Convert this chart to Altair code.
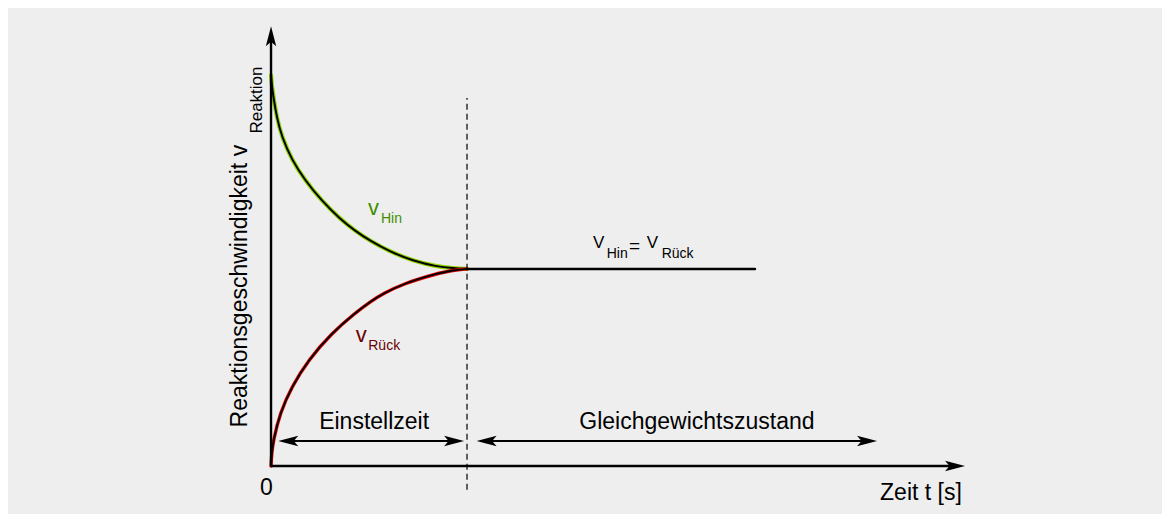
import altair as alt
import pandas as pd

# ---- values ----------------------------------------------------------------
# t: time (equilibrium reached at t = 1), v: reaction rate (v_Hin(0) = 1)
t_hin = [0.0, 0.004, 0.012, 0.030, 0.055, 0.106, 0.173, 0.259, 0.352, 0.430, 0.505, 0.607, 0.724, 0.845, 0.930, 1.0]
v_hin = [1.0, 0.975, 0.944, 0.890, 0.842, 0.783, 0.731, 0.678, 0.632, 0.601, 0.576, 0.548, 0.525, 0.510, 0.506, 0.504]
t_rueck = [0.0, 0.003, 0.012, 0.046, 0.106, 0.190, 0.310, 0.429, 0.505, 0.573, 0.673, 0.845, 0.930, 1.0]
v_rueck = [0.0, 0.030, 0.066, 0.136, 0.203, 0.271, 0.340, 0.391, 0.420, 0.441, 0.466, 0.492, 0.501, 0.504]
t_eq = [1.0, 2.469]
v_eq = [0.504, 0.504]

t_axis_end = 3.541          # tip of the time axis arrow
v_axis_end = 1.125          # tip of the rate axis arrow
t_split = 1.0               # end of the Einstellzeit
dash_range = [-0.061, 0.941]
span_level = 0.064
span_einstell = [0.037, 0.985]
span_gleich = [1.049, 3.092]

X_DOM = [-1.342, 4.546]
Y_DOM = [-0.1228, 1.1714]
W, H = 1154, 506
PX_T = W / (X_DOM[1] - X_DOM[0])
PX_V = H / (Y_DOM[1] - Y_DOM[0])

GREEN_GLOW = "#8fd400"
GREEN_TXT = "#3f8f00"
RED_GLOW = "#e00000"
RED_TXT = "#6a0000"
FONT = "Liberation Sans"

xs = alt.Scale(domain=X_DOM, nice=False, zero=False)
ys = alt.Scale(domain=Y_DOM, nice=False, zero=False)


def X(f="t"):
    return alt.X(f"{f}:Q", scale=xs, axis=None)


def Y(f="v"):
    return alt.Y(f"{f}:Q", scale=ys, axis=None)


hin = pd.DataFrame({"t": t_hin, "v": v_hin})
rueck = pd.DataFrame({"t": t_rueck, "v": v_rueck})
eq = pd.DataFrame({"t": t_eq, "v": v_eq})


def line(df, color, w, interp="basis"):
    return alt.Chart(df).mark_line(color=color, strokeWidth=w, interpolate=interp,
                                   strokeCap="round").encode(x=X(), y=Y())


layers = [
    line(hin, GREEN_GLOW, 4.2),
    line(hin, "black", 2.0),
    line(rueck, RED_GLOW, 3.4),
    line(rueck, "black", 1.8),
    line(eq, "black", 2.6, "linear"),
]

# dashed separator
dash = pd.DataFrame({"t": [t_split], "v": [dash_range[0]], "v2": [dash_range[1]]})
layers.append(alt.Chart(dash).mark_rule(color="black", strokeWidth=1.2, strokeDash=[6, 4])
              .encode(x=X(), y=Y(), y2="v2:Q"))

# axes lines (stop inside the arrowheads)
inset = 12
ax_h = pd.DataFrame({"t": [0.0], "t2": [t_axis_end - inset / PX_T], "v": [0.0]})
ax_v = pd.DataFrame({"t": [0.0], "v": [0.0], "v2": [v_axis_end - inset / PX_V]})
layers.append(alt.Chart(ax_h).mark_rule(color="black", strokeWidth=2.4)
              .encode(x=X(), x2="t2:Q", y=Y()))
layers.append(alt.Chart(ax_v).mark_rule(color="black", strokeWidth=2.4)
              .encode(x=X(), y=Y(), y2="v2:Q"))

# double arrows
spans = pd.DataFrame({
    "t": [span_einstell[0] + inset / PX_T, span_gleich[0] + inset / PX_T],
    "t2": [span_einstell[1] - inset / PX_T, span_gleich[1] - inset / PX_T],
    "v": [span_level, span_level],
})
layers.append(alt.Chart(spans).mark_rule(color="black", strokeWidth=2.0)
              .encode(x=X(), x2="t2:Q", y=Y()))

heads = pd.DataFrame({
    "t": [t_axis_end, 0.0, span_einstell[0], span_einstell[1], span_gleich[0], span_gleich[1]],
    "v": [0.0, v_axis_end, span_level, span_level, span_level, span_level],
    "ang": [90, 0, 270, 90, 270, 90],
})
ARROW = "M0,0L0.52,2L0,1.55L-0.52,2Z"
layers.append(alt.Chart(heads).mark_point(shape=ARROW, size=400, filled=True, color="black",
                                          opacity=1, strokeWidth=0)
              .encode(x=X(), y=Y(), angle=alt.Angle("ang:Q", scale=None)))

# ---- texts --------------------------------------------------------------------
big_txt = ["Einstellzeit", "Gleichgewichtszustand", "Zeit t [s]", "0"]
big_t = [0.526, 2.173, 3.316, -0.023]
big_v = [0.094, 0.094, -0.087, -0.074]
layers.append(alt.Chart(pd.DataFrame({"s": big_txt, "t": big_t, "v": big_v}))
              .mark_text(font=FONT, fontSize=23, color="black", align="center",
                         baseline="alphabetic")
              .encode(x=X(), y=Y(), text="s:N"))

ytitle = pd.DataFrame({"s": ["Reaktionsgeschwindigkeit v"], "t": [-0.1224], "v": [0.460]})
layers.append(alt.Chart(ytitle).mark_text(font=FONT, fontSize=23, color="black", angle=270,
                                          align="center", baseline="alphabetic")
              .encode(x=X(), y=Y(), text="s:N"))
ysub = pd.DataFrame({"s": ["Reaktion"], "t": [-0.046], "v": [0.936]})
layers.append(alt.Chart(ysub).mark_text(font=FONT, fontSize=17, color="black", angle=270,
                                        align="center", baseline="alphabetic")
              .encode(x=X(), y=Y(), text="s:N"))


def label(s, t, v, size, color):
    df = pd.DataFrame({"s": [s], "t": [t], "v": [v]})
    return alt.Chart(df).mark_text(font=FONT, fontSize=size, color=color, align="left",
                                   baseline="alphabetic").encode(x=X(), y=Y(), text="s:N")


layers += [
    label("v", 0.495, 0.642, 22, GREEN_TXT),
    label("Hin", 0.561, 0.621, 14, GREEN_TXT),
    label("v", 0.432, 0.318, 22, RED_TXT),
    label("Rück", 0.496, 0.297, 14, RED_TXT),
    label("V", 1.643, 0.557, 17, "black"),
    label("Hin", 1.713, 0.531, 14, "black"),
    label("=", 1.827, 0.548, 19, "black"),
    label("V", 1.917, 0.557, 17, "black"),
    label("Rück", 1.993, 0.532, 14, "black"),
]

chart = (
    alt.layer(*layers)
    .properties(width=W, height=H, autosize="none", padding=0, background="#eeeeee")
    .configure_view(stroke=None)
)

chart.save("out.html", embed_options={"renderer": "svg", "actions": False})
